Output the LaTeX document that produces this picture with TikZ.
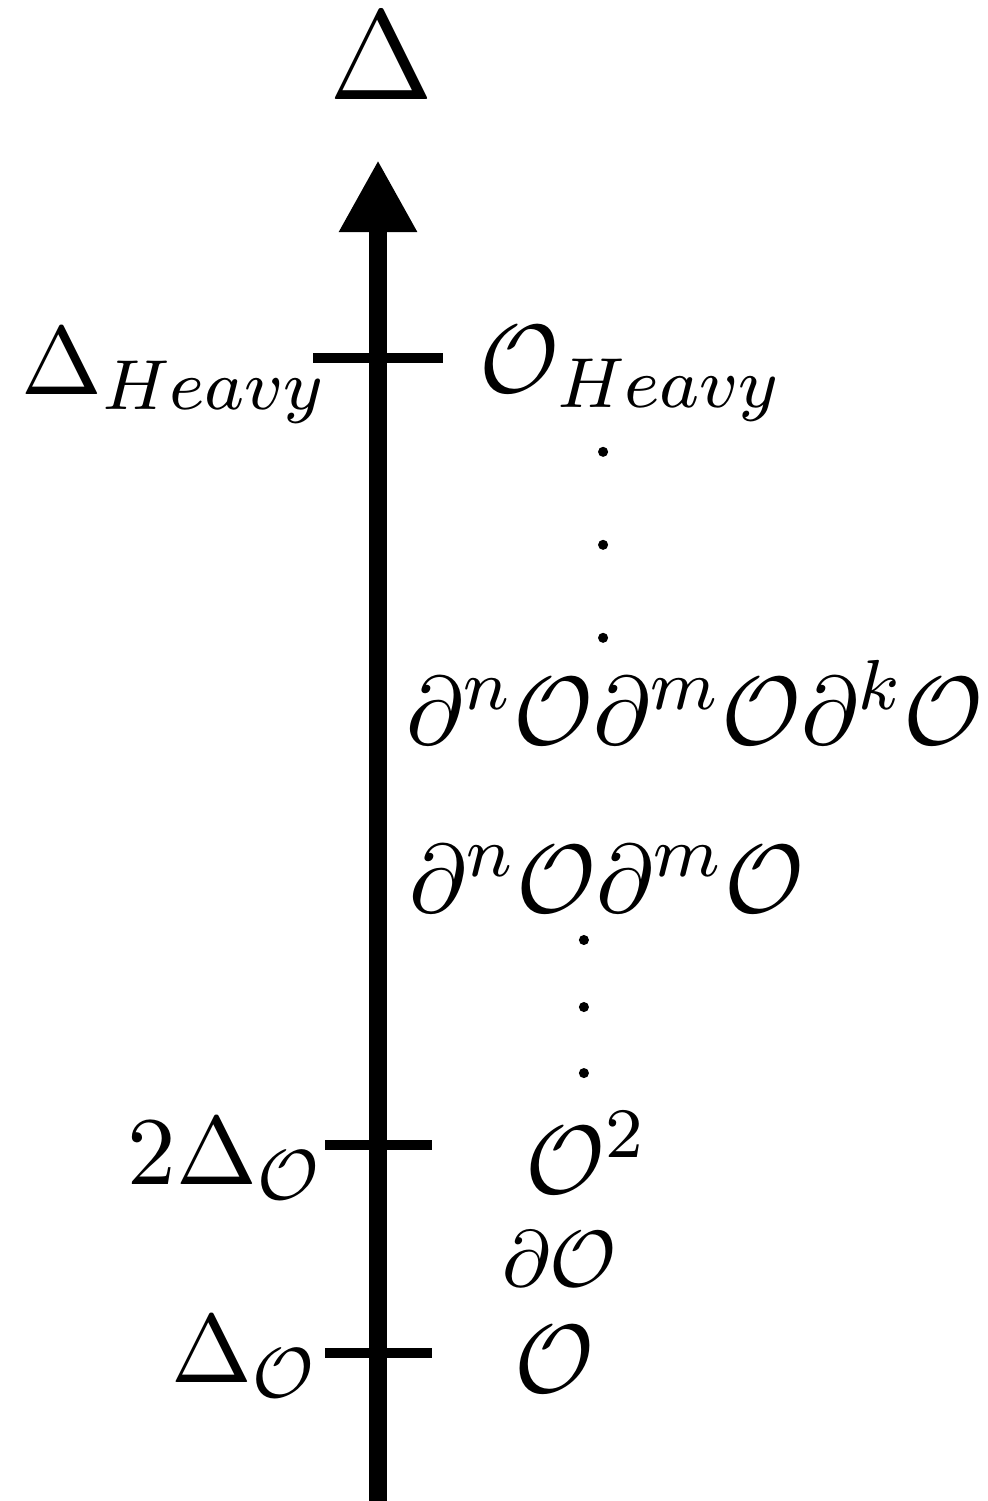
\documentclass[tikz,border=0pt,11pt]{standalone}
\usepackage{amsmath, amssymb}
\usepackage{tikz}
\usetikzlibrary{arrows.meta,calc,positioning}

\begin{document}
\begin{tikzpicture}
      \useasboundingbox (0,0) rectangle (3.917,5.956);
      \tikzset{tick/.style={very thick}, lab/.style={inner sep=0pt}}
      % Axis
      \coordinate (bot) at (1.5,0);
      \coordinate (top) at (1.5,5.321);
      \draw[line width=2.1pt, -{Triangle[length=2.86mm,width=2.9mm]}] (bot) -- (top);
      \node[lab, anchor=base] (delta) at (1.512,5.56) {\Large $\Delta$};

      % Ticks
      \coordinate (hL) at (1.242,4.536);
      \coordinate (hR) at (1.758,4.536);
      \draw[tick] (hL) -- (hR);
      \coordinate (tL) at (1.290,1.413);
      \coordinate (tR) at (1.714,1.413);
      \draw[tick] (tL) -- (tR);
      \coordinate (oL) at (1.290,0.587);
      \coordinate (oR) at (1.714,0.587);
      \draw[tick] (oL) -- (oR);

      % Labels on the left
      \node[lab, anchor=base east] (dheavy) at (1.31,4.389) {$\Delta_{Heavy}$};
      \node[lab, anchor=base east] (dtwo) at (1.29,1.254) {$2\Delta_{\mathcal{O}}$};
      \node[lab, anchor=base east] (done) at (1.27,0.472) {$\Delta_{\mathcal{O}}$};

      % Operators on the right
      \node[lab, anchor=base west] (oheavy) at (1.897,4.397) {$\mathcal{O}_{Heavy}$};
      \node[lab, anchor=base west] (three) at (1.607,3.0) {$\partial^n\mathcal{O}\partial^m\mathcal{O}\partial^k\mathcal{O}$};
      \node[lab, anchor=base west] (two) at (1.619,2.337) {$\partial^n\mathcal{O}\partial^m\mathcal{O}$};
      \node[lab, anchor=base west] (osq) at (2.079,1.222) {$\mathcal{O}^2$};
      \node[lab, anchor=base west] (dop) at (1.985,0.851) {\footnotesize $\partial\mathcal{O}$};
      \node[lab, anchor=base west] (op) at (2.035,0.429) {$\mathcal{O}$};

      % Dots
      \foreach \y in {4.163,3.794,3.425}
        \fill (2.393,\y) circle (0.02);
      \foreach \y in {2.226,1.960,1.698}
        \fill (2.317,\y) circle (0.02);
\end{tikzpicture}
\end{document}
